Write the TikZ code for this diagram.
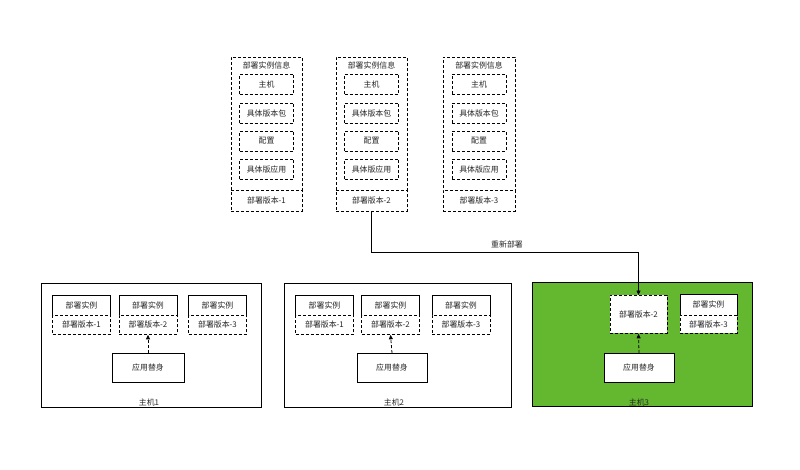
\documentclass[tikz,border=0pt]{standalone}
\usepackage{fontspec}
\setmainfont{Noto Sans CJK SC}
\usetikzlibrary{arrows.meta}
\definecolor{hostgreen}{RGB}{99,184,48}
\definecolor{txt}{RGB}{40,40,40}
\begin{document}
\begin{tikzpicture}[x=1pt,y=-1pt,
  every node/.style={font=\fontsize{7.9pt}{9pt}\selectfont, text=txt, inner sep=0pt},
  dbox/.style={draw, dashed, dash pattern=on 3pt off 2pt, line width=0.8pt, fill=white},
  sbox/.style={draw, line width=0.8pt, fill=white},
  host/.style={draw, line width=0.8pt},
  arr/.style={-{Triangle[length=4.5pt,width=4pt]}, line width=0.8pt},
  darr/.style={arr, dashed, dash pattern=on 3pt off 2pt}
]
\useasboundingbox (0,0) rectangle (800,469);

% top columns
\foreach \n/\cx/\w in {1/266.5/71, 2/371.5/71, 3/479/72}{
  \node[dbox, minimum width=\w pt, minimum height=133pt, anchor=north] (info\n) at (\cx,57) {};
  \node (infot\n) at (\cx,65.5) {部署实例信息};
  \node[dbox, minimum width=\w pt, minimum height=21pt, anchor=north] (ver\n) at (\cx,190) {部署版本-\n};
  \node[dbox, minimum width=54pt, minimum height=20pt] (host\n) at (\cx,84) {主机};
  \node[dbox, minimum width=54pt, minimum height=20pt] (pkg\n) at (\cx,113) {具体版本包};
  \node[dbox, minimum width=54pt, minimum height=20pt] (cfg\n) at (\cx,141) {配置};
  \node[dbox, minimum width=54pt, minimum height=20pt] (app\n) at (\cx,169) {具体版应用};
}

% host 1
\node[host, minimum width=220pt, minimum height=124pt, anchor=north west] (h1) at (41,283) {};
\node (h1l) at (149,402) {主机1};
\foreach \i/\cx in {1/81.5, 2/148, 3/217.5}{
  \node[sbox, minimum width=58pt, minimum height=20pt, anchor=north] (h1i\i) at (\cx,295) {部署实例};
  \node[dbox, minimum width=58pt, minimum height=19pt, anchor=north] (h1v\i) at (\cx,315) {部署版本-\i};
}
\node[sbox, minimum width=72pt, minimum height=29pt, anchor=north] (h1a) at (148,353) {应用替身};
\draw[darr] (h1a.north) -- (h1v2.south);

% host 2
\node[host, minimum width=227pt, minimum height=124pt, anchor=north west] (h2) at (284,283) {};
\node (h2l) at (394,402) {主机2};
\foreach \i/\cx in {1/324.5, 2/390.5, 3/461}{
  \node[sbox, minimum width=58pt, minimum height=20pt, anchor=north] (h2i\i) at (\cx,295) {部署实例};
  \node[dbox, minimum width=58pt, minimum height=19pt, anchor=north] (h2v\i) at (\cx,315) {部署版本-\i};
}
\node[sbox, minimum width=70pt, minimum height=29pt, anchor=north] (h2a) at (392,353) {应用替身};
\draw[darr] (h2a.north) -- (h2v2.south);

% host 3
\node[host, fill=hostgreen, minimum width=220pt, minimum height=124pt, anchor=north west] (h3) at (532,282) {};
\node (h3l) at (639,402) {主机3};
\node[dbox, minimum width=57pt, minimum height=38pt, anchor=north] (h3v2) at (638.5,295) {部署版本-2};
\node[sbox, minimum width=57pt, minimum height=21pt, anchor=north] (h3i3) at (708.5,294) {部署实例};
\node[dbox, minimum width=57pt, minimum height=18pt, anchor=north] (h3v3) at (708.5,315) {部署版本-3};
\node[sbox, minimum width=70pt, minimum height=29pt, anchor=north] (h3a) at (639,353) {应用替身};
\draw[darr] (h3a.north) -- (h3v2.south);

% redeploy
\coordinate (bend) at (371.5,252);
\draw[arr] (ver2.south) -- (bend) -| (h3v2.north);
\node (rl) at (507,244) {重新部署};
\end{tikzpicture}
\end{document}
